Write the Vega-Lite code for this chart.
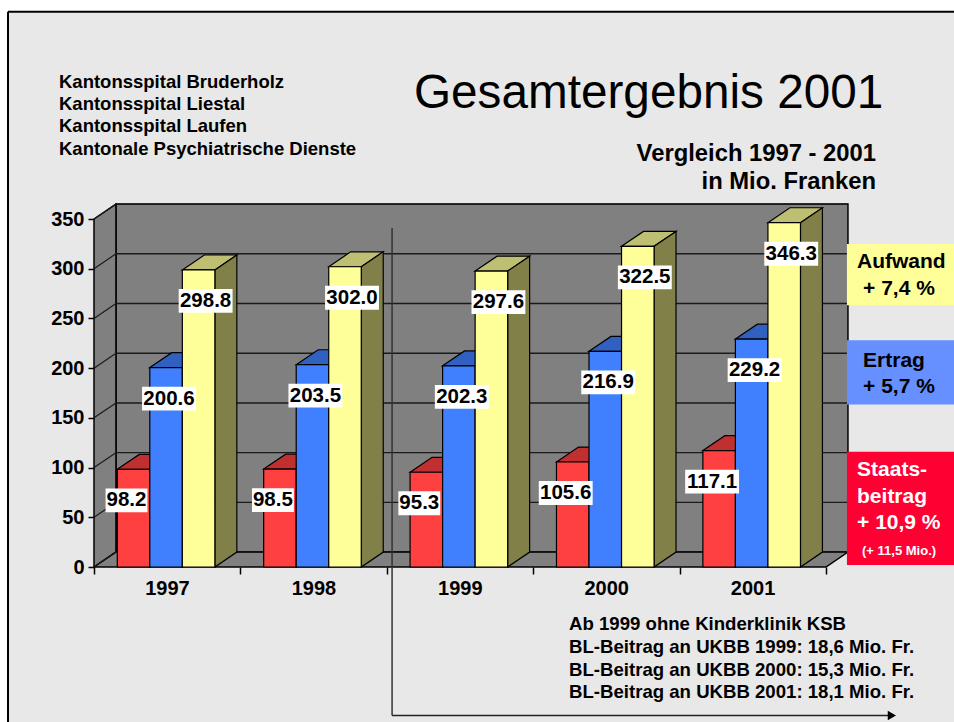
{
"$schema":"https://vega.github.io/schema/vega-lite/v6.json",
"width":732,"height":348,
"autosize":{"type":"none"},
"padding":{"left":94,"top":219,"right":128,"bottom":155},
"background":"#e8e8e8",
"config":{"view":{"stroke":null},"font":"Liberation Sans","text":{"font":"Liberation Sans"}},
"title":{"text":"Gesamtergebnis 2001","anchor":"start","frame":"group","dx":320,"offset":-147.6,"fontSize":47.7,"fontWeight":"normal","font":"Liberation Sans","color":"#000000"},
"datasets":{
"bars":[
{"year":1997,"series":"Staatsbeitrag","value":98.2},{"year":1997,"series":"Ertrag","value":200.6},{"year":1997,"series":"Aufwand","value":298.8},
{"year":1998,"series":"Staatsbeitrag","value":98.5},{"year":1998,"series":"Ertrag","value":203.5},{"year":1998,"series":"Aufwand","value":302.0},
{"year":1999,"series":"Staatsbeitrag","value":95.3},{"year":1999,"series":"Ertrag","value":202.3},{"year":1999,"series":"Aufwand","value":297.6},
{"year":2000,"series":"Staatsbeitrag","value":105.6},{"year":2000,"series":"Ertrag","value":216.9},{"year":2000,"series":"Aufwand","value":322.5},
{"year":2001,"series":"Staatsbeitrag","value":117.1},{"year":2001,"series":"Ertrag","value":229.2},{"year":2001,"series":"Aufwand","value":346.3}
],
"ticks":[{"v":0},{"v":50},{"v":100},{"v":150},{"v":200},{"v":250},{"v":300},{"v":350}]
},
"layer":[
{"data":{"name":"bars"},"transform":[
  {"calculate":"datum.year-0.341+indexof(['Staatsbeitrag','Ertrag','Aufwand'],datum.series)*0.2222","as":"x0"},
  {"calculate":"datum.x0+0.2222","as":"x1"}],
 "mark":{"type":"rect","fill":"#808080","stroke":"#808080","strokeWidth":0},
 "encoding":{
  "x":{"field":"x0","type":"quantitative","scale":{"domain":[1996.5,2001.5],"zero":false,"nice":false},
   "axis":{"values":[1996.5,1997.5,1998.5,1999.5,2000.5,2001.5],"labelExpr":"datum.value<2001 ? format(datum.value+0.5,'d') : ''","labelOffset":73,"labelFontSize":20,"labelFontWeight":"bold","labelFont":"Liberation Sans","labelColor":"#000000","labelOverlap":false,"labelBound":false,"labelFlush":false,"labelAngle":0,"tickSize":7,"tickColor":"#000000","tickWidth":1.5,"domain":false,"grid":false,"title":null,"labelPadding":4,"zindex":1}},
  "x2":{"field":"x1"},
  "y":{"field":"value","type":"quantitative","scale":{"domain":[0,350],"zero":false,"nice":false},
   "axis":{"values":[0,50,100,150,200,250,300,350],"labelFontSize":20,"labelFontWeight":"bold","labelFont":"Liberation Sans","labelColor":"#000000","tickSize":6,"tickColor":"#000000","tickWidth":1.5,"domain":false,"grid":false,"title":null,"labelPadding":4,"zindex":1}},
  "y2":{"datum":0}}},
{"data":{"values":[{}]},"mark":{"type":"rect","fill":"#808080","stroke":"#000000","strokeWidth":1.5},
 "encoding":{"x":{"datum":1996.65,"type":"quantitative","axis":null},"x2":{"datum":2001.65},"y":{"datum":15,"type":"quantitative","axis":null},"y2":{"datum":365}}},
{"data":{"values":[{"t":0},{"t":1}]},"transform":[{"calculate":"1996.5+datum.t*0.15","as":"px"},{"calculate":"350+datum.t*15","as":"hi"},{"calculate":"datum.t*15","as":"lo"}],
 "mark":{"type":"area","orient":"vertical","fill":"#808080","stroke":"#000000","strokeWidth":1.5},
 "encoding":{"x":{"field":"px","type":"quantitative","axis":null},"y":{"field":"hi","type":"quantitative","axis":null,"stack":null},"y2":{"field":"lo"}}},
{"data":{"values":[{"t":0},{"t":1},{"t":2},{"t":3}]},"transform":[{"calculate":"datum.t==0?1996.5:datum.t==1?1996.65:datum.t==2?2001.5:2001.65","as":"px"},{"calculate":"datum.t==0?0:15","as":"hi"},{"calculate":"datum.t==3?15:0","as":"lo"}],
 "mark":{"type":"area","orient":"vertical","fill":"#808080","stroke":"#000000","strokeWidth":1.5},
 "encoding":{"x":{"field":"px","type":"quantitative","axis":null},"y":{"field":"hi","type":"quantitative","axis":null,"stack":null},"y2":{"field":"lo"}}},
{"data":{"name":"ticks"},"transform":[{"calculate":"datum.v+15","as":"back"}],
 "mark":{"type":"rule","color":"#1a1a1a","strokeWidth":1.4},
 "encoding":{"x":{"datum":1996.65,"type":"quantitative","axis":null},"x2":{"datum":2001.65},"y":{"field":"back","type":"quantitative","axis":null}}},
{"data":{"name":"ticks"},"transform":[{"calculate":"datum.v+15","as":"back"}],
 "mark":{"type":"rule","color":"#1a1a1a","strokeWidth":1.2},
 "encoding":{"x":{"datum":1996.5,"type":"quantitative","axis":null},"x2":{"datum":1996.65},"y":{"field":"v","type":"quantitative","axis":null},"y2":{"field":"back"}}},
{"data":{"name":"bars"},"transform":[
  {"calculate":"datum.year-0.341+indexof(['Staatsbeitrag','Ertrag','Aufwand'],datum.series)*0.2222","as":"x0"},
  {"calculate":"datum.x0+0.2222","as":"x1"},
  {"calculate":"[0,1,2,3]","as":"t"},{"flatten":["t"]},
  {"calculate":"datum.t==0?datum.x0:datum.t==1?datum.x0+0.15:datum.t==2?datum.x1:datum.x1+0.15","as":"px"},
  {"calculate":"datum.t==0?datum.value:datum.value+15","as":"hi"},
  {"calculate":"datum.t==3?datum.value+15:datum.value","as":"lo"}],
 "mark":{"type":"area","orient":"vertical","stroke":"#000000","strokeWidth":1.2},
 "encoding":{"x":{"field":"px","type":"quantitative","axis":null},"y":{"field":"hi","type":"quantitative","axis":null,"stack":null},"y2":{"field":"lo"},"detail":{"field":"year"},
  "fill":{"field":"series","type":"nominal","legend":null,"scale":{"domain":["Staatsbeitrag","Ertrag","Aufwand"],"range":["#c03030","#3060c0","#bfbf73"]}}}},
{"data":{"name":"bars"},"transform":[
  {"calculate":"datum.year-0.341+indexof(['Staatsbeitrag','Ertrag','Aufwand'],datum.series)*0.2222+0.2222","as":"x1"},
  {"calculate":"[0,1]","as":"t"},{"flatten":["t"]},
  {"calculate":"datum.x1+datum.t*0.15","as":"px"},
  {"calculate":"datum.value+datum.t*15","as":"hi"},
  {"calculate":"datum.t*15","as":"lo"}],
 "mark":{"type":"area","orient":"vertical","stroke":"#000000","strokeWidth":1.2},
 "encoding":{"x":{"field":"px","type":"quantitative","axis":null},"y":{"field":"hi","type":"quantitative","axis":null,"stack":null},"y2":{"field":"lo"},"detail":{"field":"year"},
  "fill":{"field":"series","type":"nominal","legend":null,"scale":{"domain":["Staatsbeitrag","Ertrag","Aufwand"],"range":["#802020","#204080","#808048"]}}}},
{"data":{"name":"bars"},"transform":[
  {"calculate":"datum.year-0.341+indexof(['Staatsbeitrag','Ertrag','Aufwand'],datum.series)*0.2222","as":"x0"},
  {"calculate":"datum.x0+0.2222","as":"x1"}],
 "mark":{"type":"rect","stroke":"#000000","strokeWidth":1.2},
 "encoding":{
  "x":{"field":"x0","type":"quantitative","axis":null},
  "x2":{"field":"x1"},
  "y":{"field":"value","type":"quantitative","axis":null},
  "y2":{"datum":0},
  "fill":{"field":"series","type":"nominal","legend":null,"scale":{"domain":["Staatsbeitrag","Ertrag","Aufwand"],"range":["#ff4040","#4080ff","#ffff99"]}}}},
{"data":{"values":[{}]},"mark":{"type":"rule","color":"#333333","strokeWidth":1.5},
 "encoding":{"x":{"datum":1998.536,"type":"quantitative","axis":null},"y":{"datum":340.9,"type":"quantitative","axis":null},"y2":{"datum":-149.3}}},
{"data":{"values":[{}]},"mark":{"type":"rule","color":"#222222","strokeWidth":1.5},
 "encoding":{"x":{"datum":1998.536,"type":"quantitative","axis":null},"x2":{"datum":2001.937},"y":{"datum":-149.3,"type":"quantitative","axis":null}}},
{"data":{"values":[{}]},"mark":{"type":"point","shape":"triangle-right","filled":true,"fill":"#000000","opacity":1,"size":90},
 "encoding":{"x":{"datum":2001.95,"type":"quantitative","axis":null},"y":{"datum":-149.3,"type":"quantitative","axis":null}}},
{"data":{"name":"bars"},"transform":[
  {"calculate":"datum.year-0.341+indexof(['Staatsbeitrag','Ertrag','Aufwand'],datum.series)*0.2222+0.1111+(datum.series=='Staatsbeitrag'?-0.048:datum.series=='Ertrag'?0.02:0.048)","as":"xc"},
  {"calculate":"datum.value>=100?0.184:0.143","as":"hw"},
  {"calculate":"datum.xc-datum.hw","as":"xa"},{"calculate":"datum.xc+datum.hw","as":"xb"},
  {"calculate":"datum.value-31.2+12","as":"ya"},{"calculate":"datum.value-31.2-12","as":"yb"}],
 "mark":{"type":"rect","fill":"#ffffff"},
 "encoding":{"x":{"field":"xa","type":"quantitative","axis":null},"x2":{"field":"xb"},"y":{"field":"ya","type":"quantitative","axis":null},"y2":{"field":"yb"}}},
{"data":{"name":"bars"},"transform":[
  {"calculate":"datum.year-0.341+indexof(['Staatsbeitrag','Ertrag','Aufwand'],datum.series)*0.2222+0.1111+(datum.series=='Staatsbeitrag'?-0.048:datum.series=='Ertrag'?0.02:0.048)","as":"xc"},
  {"calculate":"datum.value-31.2","as":"yc"}],
 "mark":{"type":"text","fontSize":20.5,"fontWeight":"bold","baseline":"middle","align":"center","color":"#000000"},
 "encoding":{"x":{"field":"xc","type":"quantitative","axis":null},"y":{"field":"yc","type":"quantitative","axis":null},"text":{"field":"value","type":"quantitative","format":".1f"}}},
{"data":{"values":[{}]},"mark":{"type":"rect","fill":"#ffff99"},"encoding":{"x":{"datum":2001.643,"type":"quantitative","axis":null},"x2":{"datum":2002.415},"y":{"datum":324.8,"type":"quantitative","axis":null},"y2":{"datum":263.3}}},
{"data":{"values":[{}]},"mark":{"type":"rect","fill":"#6690ff"},"encoding":{"x":{"datum":2001.643,"type":"quantitative","axis":null},"x2":{"datum":2002.415},"y":{"datum":228,"type":"quantitative","axis":null},"y2":{"datum":163.4}}},
{"data":{"values":[{}]},"mark":{"type":"rect","fill":"#ff0033"},"encoding":{"x":{"datum":2001.643,"type":"quantitative","axis":null},"x2":{"datum":2002.415},"y":{"datum":116,"type":"quantitative","axis":null},"y2":{"datum":2}}},
{"data":{"values":[{"label":"Aufwand"}]},"mark":{"type":"text","align":"left","baseline":"alphabetic","fontSize":21,"fontWeight":"bold","color":"#000000"},"encoding":{"x":{"datum":2001.712,"type":"quantitative","axis":null},"y":{"datum":300.6,"type":"quantitative","axis":null},"text":{"field":"label"}}},
{"data":{"values":[{"label":"+ 7,4 %"}]},"mark":{"type":"text","align":"left","baseline":"alphabetic","fontSize":21,"fontWeight":"bold","color":"#000000"},"encoding":{"x":{"datum":2001.753,"type":"quantitative","axis":null},"y":{"datum":273.3,"type":"quantitative","axis":null},"text":{"field":"label"}}},
{"data":{"values":[{"label":"Ertrag"}]},"mark":{"type":"text","align":"left","baseline":"alphabetic","fontSize":21,"fontWeight":"bold","color":"#000000"},"encoding":{"x":{"datum":2001.753,"type":"quantitative","axis":null},"y":{"datum":200.7,"type":"quantitative","axis":null},"text":{"field":"label"}}},
{"data":{"values":[{"label":"+ 5,7 %"}]},"mark":{"type":"text","align":"left","baseline":"alphabetic","fontSize":21,"fontWeight":"bold","color":"#000000"},"encoding":{"x":{"datum":2001.753,"type":"quantitative","axis":null},"y":{"datum":174.5,"type":"quantitative","axis":null},"text":{"field":"label"}}},
{"data":{"values":[{"label":"Staats-"}]},"mark":{"type":"text","align":"left","baseline":"alphabetic","fontSize":21,"fontWeight":"bold","color":"#ffffff"},"encoding":{"x":{"datum":2001.712,"type":"quantitative","axis":null},"y":{"datum":91.8,"type":"quantitative","axis":null},"text":{"field":"label"}}},
{"data":{"values":[{"label":"beitrag"}]},"mark":{"type":"text","align":"left","baseline":"alphabetic","fontSize":21,"fontWeight":"bold","color":"#ffffff"},"encoding":{"x":{"datum":2001.712,"type":"quantitative","axis":null},"y":{"datum":64.6,"type":"quantitative","axis":null},"text":{"field":"label"}}},
{"data":{"values":[{"label":"+ 10,9 %"}]},"mark":{"type":"text","align":"left","baseline":"alphabetic","fontSize":21,"fontWeight":"bold","color":"#ffffff"},"encoding":{"x":{"datum":2001.712,"type":"quantitative","axis":null},"y":{"datum":38.3,"type":"quantitative","axis":null},"text":{"field":"label"}}},
{"data":{"values":[{"label":"(+ 11,5 Mio.)"}]},"mark":{"type":"text","align":"left","baseline":"alphabetic","fontSize":13,"fontWeight":"bold","color":"#ffffff"},"encoding":{"x":{"datum":2001.746,"type":"quantitative","axis":null},"y":{"datum":12.1,"type":"quantitative","axis":null},"text":{"field":"label"}}},
{"data":{"values":[{"lines":["Kantonsspital Bruderholz","Kantonsspital Liestal","Kantonsspital Laufen","Kantonale Psychiatrische Dienste"]}]},"mark":{"type":"text","align":"left","baseline":"alphabetic","fontSize":18.5,"fontWeight":"bold","lineHeight":22.4,"color":"#000000"},"encoding":{"x":{"datum":1996.261,"type":"quantitative","axis":null},"y":{"datum":482.1,"type":"quantitative","axis":null},"text":{"field":"lines"}}},
{"data":{"values":[{"lines":["Vergleich 1997 - 2001","in Mio. Franken"]}]},"mark":{"type":"text","align":"right","baseline":"alphabetic","fontSize":23.8,"fontWeight":"bold","lineHeight":28,"color":"#000000"},"encoding":{"x":{"datum":2001.842,"type":"quantitative","axis":null},"y":{"datum":408.5,"type":"quantitative","axis":null},"text":{"field":"lines"}}},
{"data":{"values":[{"lines":["Ab 1999 ohne Kinderklinik KSB","BL-Beitrag an UKBB 1999: 18,6 Mio. Fr.","BL-Beitrag an UKBB 2000: 15,3 Mio. Fr.","BL-Beitrag an UKBB 2001: 18,1 Mio. Fr."]}]},"mark":{"type":"text","align":"left","baseline":"alphabetic","fontSize":18.6,"fontWeight":"bold","lineHeight":22.7,"color":"#000000"},"encoding":{"x":{"datum":1999.745,"type":"quantitative","axis":null},"y":{"datum":-63.5,"type":"quantitative","axis":null},"text":{"field":"lines"}}},
{"data":{"values":[{}]},"mark":{"type":"rect","fill":"#ffffff"},"encoding":{"x":{"datum":1995.2,"type":"quantitative","axis":null},"x2":{"datum":2002.7},"y":{"datum":558.5,"type":"quantitative","axis":null},"y2":{"datum":600}}},
{"data":{"values":[{}]},"mark":{"type":"rect","fill":"#ffffff"},"encoding":{"x":{"datum":1995,"type":"quantitative","axis":null},"x2":{"datum":1995.9126},"y":{"datum":600,"type":"quantitative","axis":null},"y2":{"datum":-200}}},
{"data":{"values":[{}]},"mark":{"type":"rule","color":"#000000","strokeWidth":2},"encoding":{"x":{"datum":1995.9126,"type":"quantitative","axis":null},"x2":{"datum":2002.7},"y":{"datum":558.5,"type":"quantitative","axis":null}}},
{"data":{"values":[{}]},"mark":{"type":"rule","color":"#000000","strokeWidth":2},"encoding":{"x":{"datum":1995.9126,"type":"quantitative","axis":null},"y":{"datum":558.5,"type":"quantitative","axis":null},"y2":{"datum":-200}}}
],
"resolve":{"scale":{"fill":"independent"},"axis":{"x":"independent","y":"independent"}}
}
